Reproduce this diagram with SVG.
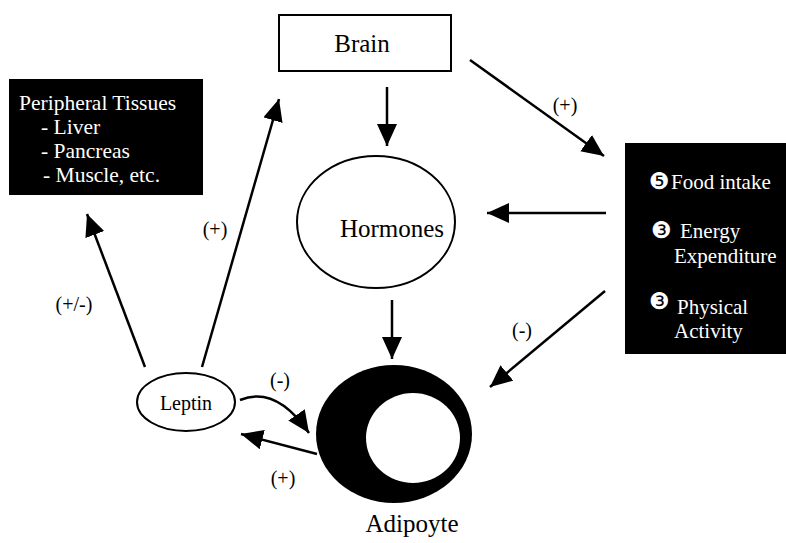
<svg xmlns="http://www.w3.org/2000/svg" width="786" height="543" viewBox="0 0 786 543">
<style>
.w{fill:#fff}
.ln{stroke:#000;stroke-width:2.5;fill:none}
.n{stroke:#000;stroke-width:2;fill:#fff}
.lb{font-size:20px;text-anchor:middle}
.dg{font-size:23px;fill:#fff}
</style>
<defs>
<marker id="ah" markerUnits="userSpaceOnUse" markerWidth="24" markerHeight="22" refX="22" refY="10" orient="auto">
<path d="M0,0 L22,10 L0,20 z" fill="#000"/>
</marker>
</defs>
<g font-family="Liberation Serif">
<g id="brain">
<rect class="n" x="279" y="15" width="172" height="56"/>
<text x="362" y="52" font-size="25" text-anchor="middle">Brain</text>
</g>
<g id="hormones">
<ellipse class="n" cx="376" cy="222" rx="79" ry="66"/>
<text x="392" y="237" font-size="25" text-anchor="middle">Hormones</text>
</g>
<g id="peripheral">
<rect x="9" y="79" width="194" height="116" fill="#000"/>
<text class="w" x="19" y="110" font-size="21.5">Peripheral Tissues</text>
<text class="w" x="41" y="134" font-size="21.5">- Liver</text>
<text class="w" x="41" y="158" font-size="21.5">- Pancreas</text>
<text class="w" x="43" y="182" font-size="21.5">- Muscle, etc.</text>
</g>
<g id="behaviour">
<rect x="625" y="143" width="161" height="211" fill="#000"/>
<text class="dg" x="649" y="189" font-family="DejaVu Sans">❺</text>
<text class="w" x="671" y="189" font-size="21">Food intake</text>
<text class="dg" x="651" y="238" font-family="DejaVu Sans">❸</text>
<text class="w" x="680" y="238" font-size="21">Energy</text>
<text class="w" x="674" y="263" font-size="21">Expenditure</text>
<text class="dg" x="649" y="309" font-family="DejaVu Sans">❸</text>
<text class="w" x="677" y="314" font-size="21">Physical</text>
<text class="w" x="674" y="338" font-size="21">Activity</text>
</g>
<g id="leptin">
<ellipse class="n" cx="186" cy="402" rx="49" ry="29"/>
<text x="186" y="410" font-size="20" text-anchor="middle">Leptin</text>
</g>
<g id="adipocyte">
<ellipse cx="394" cy="434" rx="78" ry="69" fill="#000"/>
<ellipse cx="413" cy="438" rx="47" ry="45" fill="#fff"/>
<text x="412" y="532" font-size="25" text-anchor="middle">Adipoyte</text>
</g>
<g id="connectors">
<line class="ln" x1="387" y1="87" x2="387" y2="146" marker-end="url(#ah)"/>
<line class="ln" x1="392" y1="300" x2="392" y2="359" marker-end="url(#ah)"/>
<line class="ln" x1="470" y1="60" x2="604" y2="156" marker-end="url(#ah)"/>
<line class="ln" x1="606" y1="213" x2="487" y2="213" marker-end="url(#ah)"/>
<line class="ln" x1="605" y1="291" x2="490" y2="387" marker-end="url(#ah)"/>
<line class="ln" x1="145" y1="367" x2="87" y2="214" marker-end="url(#ah)"/>
<line class="ln" x1="202" y1="367" x2="279" y2="99" marker-end="url(#ah)"/>
<path class="ln" d="M240,400 Q276,385 309,433" marker-end="url(#ah)"/>
<line class="ln" x1="317" y1="454" x2="241" y2="434" marker-end="url(#ah)"/>
<text class="lb" x="565" y="112">(+)</text>
<text class="lb" x="522" y="337">(-)</text>
<text class="lb" x="215" y="236">(+)</text>
<text class="lb" x="74" y="311">(+/-)</text>
<text class="lb" x="280" y="387">(-)</text>
<text class="lb" x="283" y="485">(+)</text>
</g>
</g>
</svg>
